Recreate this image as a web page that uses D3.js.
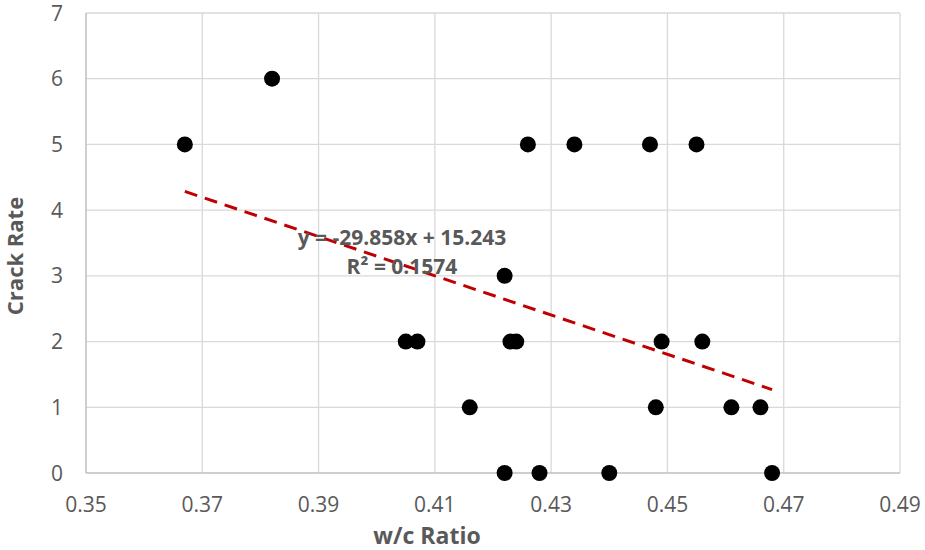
<!DOCTYPE html>
<html><head><meta charset="utf-8">
<script src="https://cdn.jsdelivr.net/npm/d3@7"></script>
<style>body{margin:0;background:#fff}svg{display:block}</style>
</head><body>
<script>
const wcRatio = [0.367,0.382,0.405,0.407,0.416,0.422,0.422,0.423,0.424,0.426,0.428,0.434,0.440,0.447,0.448,0.449,0.455,0.456,0.461,0.466,0.468];
const crackRate = [5,6,2,2,1,3,0,2,2,5,0,5,0,5,1,2,5,2,1,1,0];
const xTicks = [0.35,0.37,0.39,0.41,0.43,0.45,0.47,0.49];
const yTicks = [0,1,2,3,4,5,6,7];
const slope = -29.858, intercept = 15.243;
const trendRange = [0.367, 0.468];
const eqLabel = "y = -29.858x + 15.243";
const r2Label = "R² = 0.1574";

const W=925,H=550;
const svg=d3.select("body").append("svg").attr("width",W).attr("height",H);
const x=d3.scaleLinear().domain([0.35,0.49]).range([86,900]);
const y=d3.scaleLinear().domain([0,7]).range([473,13]);
const font="'Open Sans', 'Liberation Sans', sans-serif";

// gridlines
svg.append("g").selectAll("line").data(xTicks.slice(1)).join("line")
  .attr("x1",d=>x(d)).attr("x2",d=>x(d)).attr("y1",y(0)).attr("y2",y(7))
  .attr("stroke","#d9d9d9").attr("stroke-width",1.3);
svg.append("g").selectAll("line").data(yTicks.slice(1)).join("line")
  .attr("x1",x(0.35)).attr("x2",x(0.49)).attr("y1",d=>y(d)).attr("y2",d=>y(d))
  .attr("stroke","#d9d9d9").attr("stroke-width",1.3);
// axes lines
svg.append("line").attr("x1",x(0.35)).attr("x2",x(0.35)).attr("y1",y(0)).attr("y2",y(7)).attr("stroke","#bfbfbf").attr("stroke-width",1.5);
svg.append("line").attr("x1",x(0.35)).attr("x2",x(0.49)).attr("y1",y(0)).attr("y2",y(0)).attr("stroke","#bfbfbf").attr("stroke-width",1.5);

// tick labels
svg.append("g").selectAll("text").data(yTicks).join("text")
  .attr("x",63).attr("y",d=>y(d)+7.5).attr("text-anchor","end")
  .attr("font-family",font).attr("font-size",21).attr("fill","#595959").text(d=>d);
svg.append("g").selectAll("text").data(xTicks).join("text")
  .attr("x",d=>x(d)).attr("y",512).attr("text-anchor","middle")
  .attr("font-family",font).attr("font-size",21).attr("fill","#595959").text(d=>d.toFixed(2));

// axis titles
svg.append("text").attr("x",427).attr("y",544).attr("text-anchor","middle")
  .attr("font-family",font).attr("font-size",23).attr("font-weight","bold").attr("fill","#595959").text("w/c Ratio");
svg.append("text").attr("transform","translate(23,256) rotate(-90)").attr("text-anchor","middle")
  .attr("font-family",font).attr("font-size",22).attr("font-weight","bold").attr("fill","#595959").text("Crack Rate");

// points
const pts=wcRatio.map((v,i)=>({x:v,y:crackRate[i]}));
svg.append("g").selectAll("circle").data(pts).join("circle")
  .attr("cx",d=>x(d.x)).attr("cy",d=>y(d.y)).attr("r",8).attr("fill","#000");

// trendline
svg.append("line").attr("x1",x(trendRange[0])).attr("y1",y(slope*trendRange[0]+intercept))
  .attr("x2",x(trendRange[1])).attr("y2",y(slope*trendRange[1]+intercept))
  .attr("stroke","#c00000").attr("stroke-width",3).attr("stroke-dasharray","13,8");

// equation label
svg.append("text").attr("x",402).attr("y",245).attr("text-anchor","middle")
  .attr("font-family",font).attr("font-size",21).attr("font-weight","bold").attr("fill","#595959").text(eqLabel);
svg.append("text").attr("x",402).attr("y",274).attr("text-anchor","middle")
  .attr("font-family",font).attr("font-size",21).attr("font-weight","bold").attr("fill","#595959").text(r2Label);
</script>
</body></html>
